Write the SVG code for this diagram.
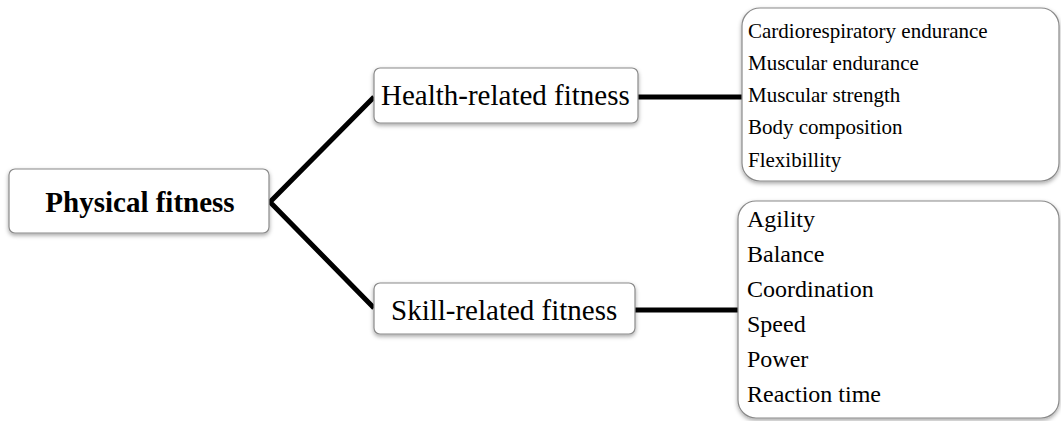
<svg xmlns="http://www.w3.org/2000/svg" width="1061" height="421" viewBox="0 0 1061 421">
<defs>
<filter id="sh" x="-10%" y="-10%" width="120%" height="130%">
<feDropShadow dx="0" dy="2" stdDeviation="2" flood-color="#000" flood-opacity="0.35"/>
</filter>
<style>
.box{fill:#fff;stroke:#8a8a8a;stroke-width:1.2;filter:url(#sh)}
.t{font-family:"Liberation Serif","Times New Roman",serif;fill:#000}
.big{font-size:29px}
.mid{font-size:21px}
.lst{font-size:24px}
.con{stroke:#000;stroke-width:5;fill:none;stroke-linecap:butt}
</style>
</defs>
<rect width="1061" height="421" fill="#fff"/>
<g id="connectors">
<path class="con" d="M374,97 L270,202 L374,308"/>
<line class="con" x1="638" y1="97" x2="742" y2="97"/>
<line class="con" x1="635" y1="310" x2="738" y2="310"/>
</g>
<g id="physical">
<rect class="box" x="9" y="169" width="260" height="64" rx="6"/>
<text class="t big" x="140" y="212" text-anchor="middle" font-weight="bold">Physical fitness</text>
</g>
<g id="health">
<rect class="box" x="374" y="68" width="264" height="55" rx="6"/>
<text class="t big" x="381" y="105">Health-related fitness</text>
</g>
<g id="skill">
<rect class="box" x="374" y="283" width="261" height="51" rx="6"/>
<text class="t big" x="391" y="320">Skill-related fitness</text>
</g>
<g id="health-items">
<rect class="box" x="742" y="8" width="317" height="173" rx="18"/>
<text class="t mid" x="748" y="37.5">Cardiorespiratory endurance</text>
<text class="t mid" x="748" y="69.8">Muscular endurance</text>
<text class="t mid" x="748" y="102">Muscular strength</text>
<text class="t mid" x="748" y="134.4">Body composition</text>
<text class="t mid" x="748" y="166.7">Flexibillity</text>
</g>
<g id="skill-items">
<rect class="box" x="738" y="201" width="321" height="217" rx="18"/>
<text class="t lst" x="747" y="227">Agility</text>
<text class="t lst" x="747" y="262">Balance</text>
<text class="t lst" x="747" y="297">Coordination</text>
<text class="t lst" x="747" y="332">Speed</text>
<text class="t lst" x="747" y="367">Power</text>
<text class="t lst" x="747" y="402">Reaction time</text>
</g>
</svg>
